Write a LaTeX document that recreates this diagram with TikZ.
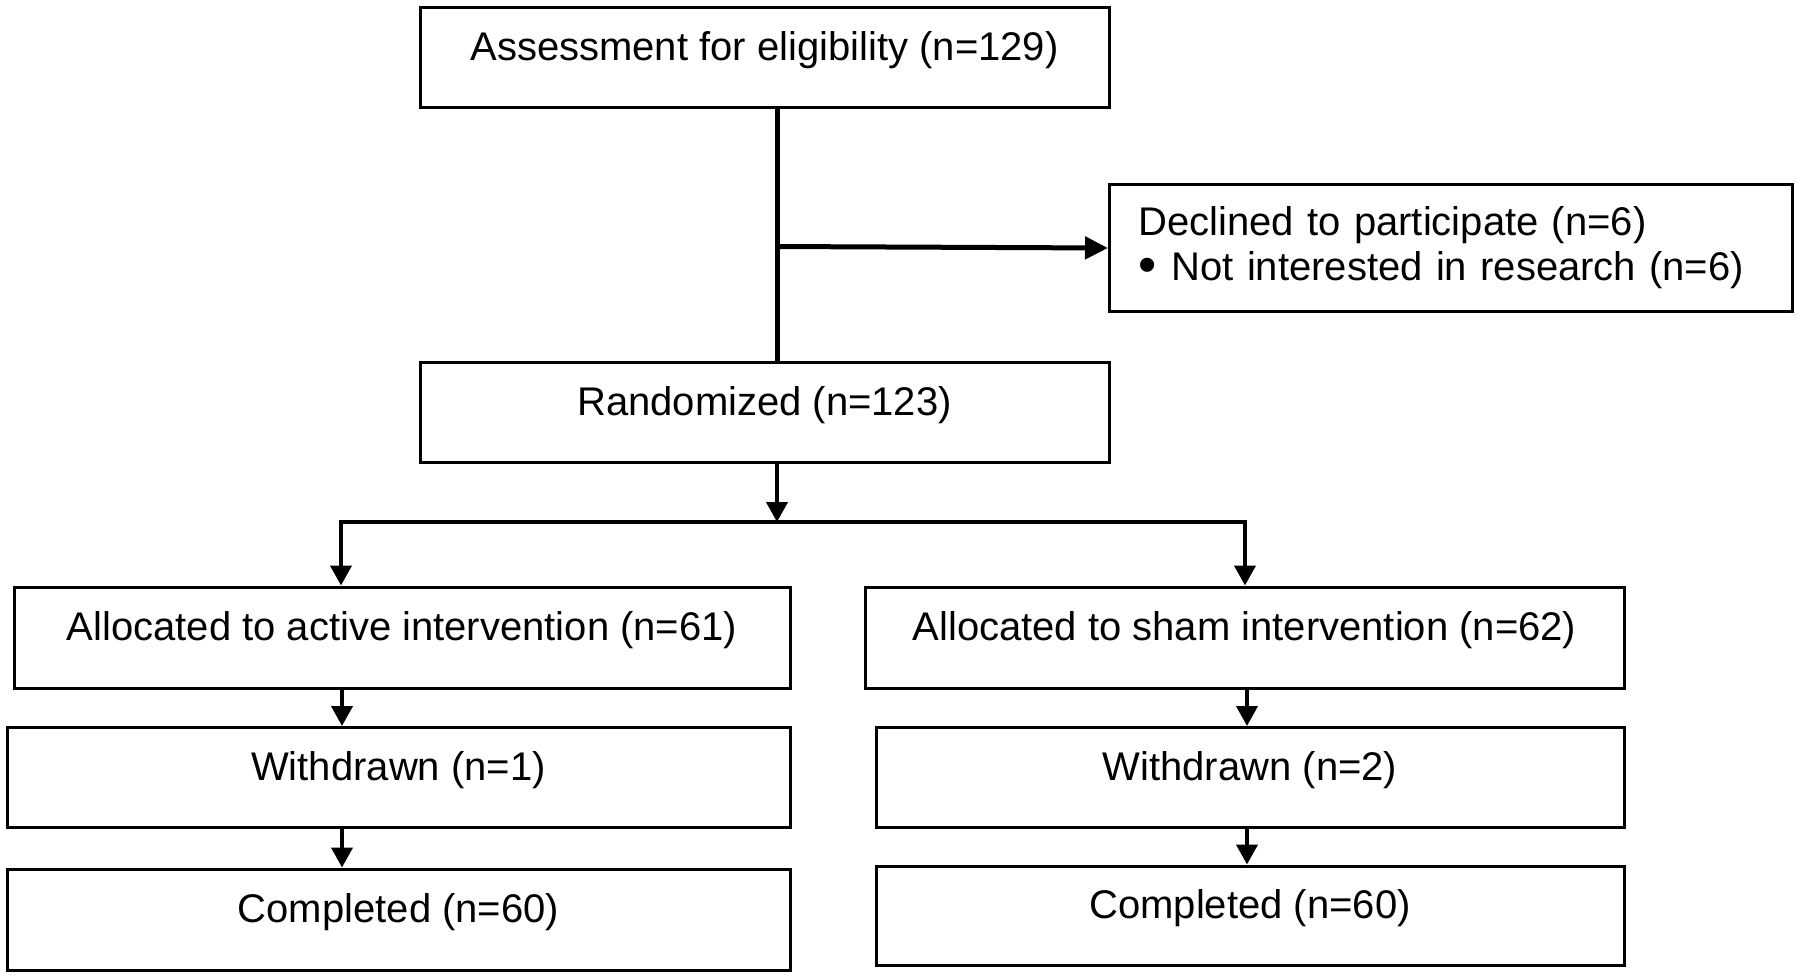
\documentclass[tikz,border=0pt]{standalone}
\usepackage{fontspec}
\setmainfont{Liberation Sans}
\usetikzlibrary{arrows.meta}
\tikzset{
  box/.style={draw=black, line width=3pt, rectangle, inner sep=0pt,
    font=\fontsize{40}{45}\selectfont, text height=27pt, text depth=21pt},
  listbox/.style={draw=black, line width=3pt, rectangle, inner ysep=0pt,
    font=\fontsize{40}{45}\selectfont, align=left},
  conn/.style={line width=5pt},
  arr/.style={line width=4pt, -{Triangle[length=20pt,width=21pt]}},
  bigarr/.style={line width=5pt, -{Triangle[length=23pt,width=22pt]}}
}
\begin{document}
\begin{tikzpicture}[x=1pt,y=-1pt]
\useasboundingbox (0,0) rectangle (1800,978);
\node[box, minimum width=689pt, minimum height=100pt] (assess) at (764.5,57.5) {Assessment for eligibility (n=129)};
\node[listbox, anchor=north west, minimum width=683pt, minimum height=127pt, text width=625pt, inner xsep=29pt] (decl) at (1108,183) {Declined to participate (n=6)\\ \makebox[33pt][l]{\raisebox{-2pt}{\scalebox{1.3}{\textbullet}}}Not interested in research (n=6)};
\node[box, minimum width=689pt, minimum height=100pt] (rand) at (764.5,412) {Randomized (n=123)};
\node[box, minimum width=776pt, minimum height=101pt] (active) at (402,637.5) {Allocated to active intervention (n=61)};
\node[box, minimum width=759pt, minimum height=101pt] (sham) at (1244.5,637.5) {Allocated to sham intervention (n=62)};
\node[box, minimum width=783pt, minimum height=100pt] (w1) at (398.5,777.5) {Withdrawn (n=1)};
\node[box, minimum width=748pt, minimum height=100pt] (w2) at (1250,777.5) {Withdrawn (n=2)};
\node[box, minimum width=783pt, minimum height=101pt] (c1) at (398.5,919.5) {Completed (n=60)};
\node[box, minimum width=748pt, minimum height=99pt] (c2) at (1250,915.5) {Completed (n=60)};

\coordinate (split) at (777,246.5);
\coordinate (junc) at (777,522);
\coordinate (jl) at (341,522);
\coordinate (jr) at (1245,522);

\draw[conn] (assess.south -| split) -- (rand.north -| split);
\draw[bigarr] (split) -- (decl.west);
\draw[arr] (rand.south -| junc) -- (junc);
\draw[line width=4pt, line cap=rect] (jl) -- (jr);
\draw[arr] (jl) -- (active.north -| jl);
\draw[arr] (jr) -- (sham.north -| jr);
\draw[arr] (active.south -| 342,0) -- (w1.north -| 342,0);
\draw[arr] (w1.south -| 342,0) -- (c1.north -| 342,0);
\draw[arr] (sham.south -| 1247,0) -- (w2.north -| 1247,0);
\draw[arr] (w2.south -| 1247,0) -- (c2.north -| 1247,0);
\end{tikzpicture}
\end{document}
